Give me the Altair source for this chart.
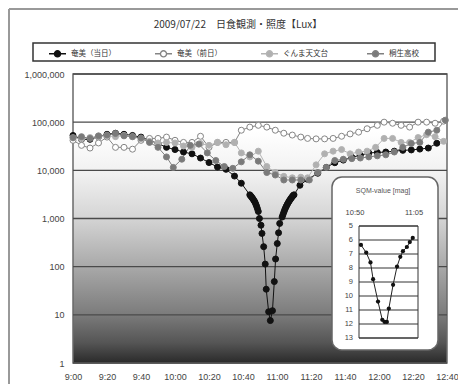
import altair as alt
import pandas as pd

title_text = "2009/07/22　日食観測・照度【Lux】"
series_names = ["奄美（当日）", "奄美（前日）", "ぐんま天文台", "桐生高校"]

# 奄美（当日）
today_time = ["9:00", "9:05", "9:10", "9:15", "9:20", "9:25", "9:30", "9:35", "9:40", "9:45",
              "9:50", "9:55", "10:00", "10:05", "10:10", "10:15", "10:20", "10:25", "10:30", "10:35",
              "10:39", "10:44:00", "10:44:30", "10:45:00", "10:45:30", "10:46:00", "10:46:30",
              "10:47:00", "10:47:30", "10:48:00", "10:48:30", "10:49:00", "10:49:40", "10:50:35",
              "10:51:10", "10:52:10", "10:53:05", "10:53:40", "10:55:05", "10:56:05", "10:57:20",
              "10:58:25", "10:59:10", "11:00:10", "11:00:55", "11:01:35", "11:03:00", "11:03:30",
              "11:04:00", "11:04:30", "11:05:00", "11:05:30", "11:06:00", "11:06:30", "11:07:00",
              "11:07:30", "11:08:00", "11:08:30", "11:09:00", "11:09:30", "11:10:00", "11:13:30",
              "11:18", "11:24", "11:29", "11:34", "11:39", "11:44", "11:49", "11:54", "11:59",
              "12:04", "12:09", "12:14", "12:19", "12:24", "12:29", "12:34"]
today_lux = [53000, 44000, 44000, 50000, 56000, 59000, 56000, 53000, 49000, 42000,
             36000, 30000, 27000, 24000, 22000, 18000, 14500, 11700, 10500, 7600,
             5400, 3100, 2950, 2800, 2650, 2500, 2350,
             2200, 2000, 1800, 1600, 1400, 1000, 725,
             490, 260, 113, 34, 11.6, 7.6, 12.2,
             49, 144, 302, 505, 790, 1070, 1200,
             1350, 1500, 1650, 1800, 1950, 2100, 2250,
             2400, 2550, 2700, 2850, 3000, 3100, 4900,
             6500, 8700, 11500, 14400, 16300, 18700, 20500, 23000, 23500,
             24000, 25000, 26000, 26500, 27600, 29000, 36500]

# 奄美（前日）
prev_time = ["9:00", "9:05", "9:10", "9:15", "9:20", "9:25", "9:30", "9:35", "9:40", "9:45",
             "9:50", "9:55", "10:00", "10:05", "10:10", "10:15", "10:20", "10:25", "10:30", "10:35",
             "10:39", "10:44", "10:49", "10:54", "10:59", "11:04", "11:09", "11:14", "11:18", "11:23",
             "11:28", "11:33", "11:38", "11:43", "11:48", "11:53", "11:59", "12:03", "12:08", "12:13",
             "12:18", "12:23", "12:28", "12:33", "12:38"]
prev_lux = [42000, 33000, 29000, 37000, 49000, 30000, 30000, 27500, 42000, 46000,
            46000, 49000, 42000, 38000, 38000, 51000, 30000, 38000, 38000, 38000,
            68000, 79000, 86000, 79000, 68000, 59000, 54000, 49000, 46000, 45000,
            45000, 46000, 51000, 57000, 62000, 73000, 86000, 100000, 95000, 86000,
            79000, 100000, 100000, 95000, 105000]

# ぐんま天文台
gunma_time = ["9:00", "9:05", "9:10", "9:15", "9:20", "9:25", "9:30", "9:35", "9:40", "9:45",
              "9:50", "9:55", "10:00", "10:05", "10:10", "10:15", "10:20", "10:25", "10:30", "10:35",
              "10:39", "10:44", "10:49", "10:54", "10:59", "11:04", "11:09", "11:14", "11:18", "11:23",
              "11:28", "11:33", "11:38", "11:43", "11:48", "11:53", "11:58", "12:03", "12:08", "12:13",
              "12:18", "12:23", "12:28", "12:33", "12:38"]
gunma_lux = [47000, 45000, 48000, 50000, 52000, 50000, 53000, 50000, 45000, 40000,
             37000, 38000, 37000, 32000, 30000, 36000, 33000, 38000, 34000, 38000,
             23000, 19000, 25000, 12000, 9000, 7500, 7000, 7200, 7000, 13000,
             22000, 25000, 27000, 22000, 24000, 25000, 30000, 46000, 46000, 38000,
             38000, 48000, 55000, 50000, 40000]

# 桐生高校
kiryu_time = ["9:00", "9:05", "9:10", "9:15", "9:20", "9:25", "9:30", "9:35", "9:40", "9:45",
              "9:50", "9:55", "9:59", "10:04", "10:09", "10:14", "10:19", "10:24", "10:29", "10:34",
              "10:39", "10:44", "10:49", "10:54", "10:59", "11:04", "11:09", "11:14", "11:19", "11:24",
              "11:29", "11:34", "11:39", "11:44", "11:49", "11:54", "11:59", "12:04", "12:09", "12:14",
              "12:19", "12:24", "12:29", "12:34", "12:39"]
kiryu_lux = [48000, 50000, 46000, 52000, 54000, 58000, 52000, 50000, 47000, 38000,
             30000, 19000, 11500, 17000, 33000, 35000, 23000, 16000, 12000, 11000,
             15000, 21000, 15500, 9000, 8000, 6300, 6300, 6300, 6300, 9000,
             11500, 16000, 17000, 17500, 18000, 19000, 20000, 21000, 24000, 30000,
             36000, 38000, 62000, 68000, 110000]

# inset: SQM-value [mag]
sqm_title = "SQM-value [mag]"
sqm_time = ["10:50:30", "10:51:50", "10:52:55", "10:53:35", "10:54:50", "10:55:55", "10:56:30",
            "10:57:05", "10:57:35", "10:58:40", "10:59:40", "11:00:30", "11:01:10", "11:02:10",
            "11:02:55", "11:03:40"]
sqm_mag = [6.35, 6.9, 7.6, 8.8, 10.4, 11.7, 11.85, 11.85, 10.9, 9.2, 7.9, 7.2, 6.8, 6.5, 6.15, 5.85]
sqm_ticks = [5, 6, 7, 8, 9, 10, 11, 12, 13]
sqm_xlabels = ["10:50", "11:05"]

x_tick_labels = ["9:00", "9:20", "9:40", "10:00", "10:20", "10:40", "11:00", "11:20", "11:40",
                 "12:00", "12:20", "12:40"]
y_ticks = [1, 10, 100, 1000, 10000, 100000, 1000000]

line_colors = ["#111111", "#858585", "#b4b4b4", "#808080"]
fill_colors = ["#111111", "#ffffff", "#b0b0b0", "#7a7a7a"]


def iso(t):
    p = t.split(":")
    h, m = int(p[0]), int(p[1])
    s = int(p[2]) if len(p) > 2 else 0
    return f"2009-07-22T{h:02d}:{m:02d}:{s:02d}"


def dt(t):
    p = t.split(":")
    return alt.DateTime(year=2009, month=7, date=22, hours=int(p[0]), minutes=int(p[1]))


rows = []
for name, ts, vs in zip(series_names,
                        [today_time, prev_time, gunma_time, kiryu_time],
                        [today_lux, prev_lux, gunma_lux, kiryu_lux]):
    for t, v in zip(ts, vs):
        rows.append({"series": name, "time": iso(t), "lux": v})
df = pd.DataFrame(rows)

sqm_df = pd.DataFrame({"t": [iso(t) for t in sqm_time], "v": sqm_mag})

W, H = 374, 289
one = alt.Data(values=[{}])

xscale = alt.Scale(domain=[dt("9:00"), dt("12:40")], nice=False)
yscale = alt.Scale(type="log", domain=[1, 1000000], nice=False)
stroke_scale = alt.Scale(domain=series_names, range=line_colors)
fill_scale = alt.Scale(domain=series_names, range=fill_colors)

leg_symbol = "M-1,0L-0.36,0M0.36,0L1,0M0.36,0A0.36,0.36,0,1,1,-0.36,0A0.36,0.36,0,1,1,0.36,0Z"
leg = alt.Legend(orient="none", legendX=-25, legendY=-30, direction="horizontal", title=None,
                 symbolType=leg_symbol, symbolSize=289, symbolStrokeWidth=1.4,
                 labelFontSize=7.5, labelFont="Noto Sans CJK JP", labelColor="#333",
                 columnPadding=36, labelOffset=4, padding=0, symbolOpacity=1)

x_axis = alt.Axis(values=[dt(t) for t in x_tick_labels], format="%-H:%M", labelFlush=False,
                  labelOverlap=False, labelPadding=9, title=None)
y_axis = alt.Axis(values=y_ticks, format=",d", labelPadding=9, labelOverlap=False, title=None)

gradient = alt.Gradient(
    gradient="linear", x1=0, y1=0, x2=0, y2=1,
    stops=[alt.GradientStop(offset=0, color="#ffffff"),
           alt.GradientStop(offset=0.2, color="#ffffff"),
           alt.GradientStop(offset=0.35, color="#f0f0f0"),
           alt.GradientStop(offset=0.5, color="#d4d4d4"),
           alt.GradientStop(offset=0.67, color="#a8a8a8"),
           alt.GradientStop(offset=0.83, color="#7c7c7c"),
           alt.GradientStop(offset=0.93, color="#555555"),
           alt.GradientStop(offset=1, color="#2a2a2a")])

bg = alt.Chart(one).mark_rect(fill=gradient, stroke="#6a6a6a", strokeWidth=1.5).encode(
    x=alt.value(0), x2=alt.value(W), y=alt.value(0), y2=alt.value(H))

grid = alt.Chart(pd.DataFrame({"g": y_ticks})).mark_rule(color="#4a4a4a", strokeWidth=1.3).encode(
    y=alt.Y("g:Q", scale=yscale, axis=y_axis))

lines = alt.Chart(df).mark_line(strokeWidth=1).encode(
    x=alt.X("time:T", scale=xscale, axis=x_axis),
    y=alt.Y("lux:Q", scale=yscale, axis=y_axis),
    stroke=alt.Stroke("series:N", scale=stroke_scale, legend=leg),
)

points = alt.Chart(df).mark_circle(size=36, opacity=1, strokeWidth=1).encode(
    x=alt.X("time:T", scale=xscale, axis=x_axis),
    y=alt.Y("lux:Q", scale=yscale, axis=y_axis),
    fill=alt.Fill("series:N", scale=fill_scale, legend=leg),
    stroke=alt.Stroke("series:N", scale=stroke_scale, legend=leg),
)

title = alt.Chart(one).mark_text(text=title_text, fontSize=10, font="Noto Sans CJK JP",
                                 color="#333").encode(x=alt.value(165), y=alt.value(-49))

legend_box = alt.Chart(one).mark_rect(filled=False, color="#333", strokeWidth=1.5).encode(
    x=alt.value(-40), x2=alt.value(362), y=alt.value(-31), y2=alt.value(-13))

frame_top = alt.Chart(one).mark_rule(color="#999", strokeWidth=2).encode(
    x=alt.value(-64), x2=alt.value(400), y=alt.value(-65))
frame_left = alt.Chart(one).mark_rule(color="#999", strokeWidth=2).encode(
    x=alt.value(-64), y=alt.value(-65), y2=alt.value(330))

main = alt.layer(bg, grid, lines, points, title, legend_box, frame_top, frame_left)

# inset
ix = alt.Scale(domain=[dt("10:50"), dt("11:05")], range=[286, 345], nice=False)
iy = alt.Scale(domain=[5, 13], range=[152, 264], nice=False, zero=False)

inset_box = alt.Chart(one).mark_rect(fill="white", stroke="#666", strokeWidth=1.5,
                                     cornerRadius=10).encode(
    x=alt.value(259), x2=alt.value(365), y=alt.value(103), y2=alt.value(276))
inset_title = alt.Chart(one).mark_text(text=sqm_title, fontSize=7, color="#555",
                                       font="Liberation Sans").encode(
    x=alt.value(310), y=alt.value(117))
inset_xlab = alt.Chart(pd.DataFrame({"t": [iso(t) for t in sqm_xlabels], "label": sqm_xlabels})
                       ).mark_text(fontSize=7.5, dx=-4, color="#444", font="Liberation Sans").encode(
    x=alt.X("t:T", scale=ix, axis=None), y=alt.value(139), text="label:N")
inset_grid = alt.Chart(pd.DataFrame({"g": sqm_ticks})).mark_rule(color="#333", strokeWidth=1).encode(
    y=alt.Y("g:Q", scale=iy, axis=None), x=alt.value(286), x2=alt.value(345))
inset_frame = alt.Chart(one).mark_rect(filled=False, color="#333", strokeWidth=1).encode(
    x=alt.value(286), x2=alt.value(345), y=alt.value(152), y2=alt.value(264))
inset_ylab = alt.Chart(pd.DataFrame({"g": sqm_ticks})).mark_text(
    align="right", baseline="middle", fontSize=7.5, color="#444", font="Liberation Sans").encode(
    y=alt.Y("g:Q", scale=iy, axis=None), x=alt.value(280), text="g:Q")
inset_line = alt.Chart(sqm_df).mark_line(color="#222", strokeWidth=1).encode(
    x=alt.X("t:T", scale=ix, axis=None), y=alt.Y("v:Q", scale=iy, axis=None))
inset_pts = alt.Chart(sqm_df).mark_circle(size=18, color="#111", opacity=1).encode(
    x=alt.X("t:T", scale=ix, axis=None), y=alt.Y("v:Q", scale=iy, axis=None))

inset = alt.layer(inset_box, inset_title, inset_xlab, inset_grid, inset_frame, inset_ylab,
                  inset_line, inset_pts)

chart = alt.layer(main, inset).resolve_scale(x="independent", y="independent").properties(
    width=W, height=H,
    padding={"left": 65, "top": 66, "right": 11, "bottom": 21},
    autosize=alt.AutoSizeParams(type="none"),
).configure_view(stroke=None).configure_axis(
    labelFont="Liberation Sans", labelFontSize=9, labelColor="#444",
    ticks=False, domain=False, grid=False,
)

chart.save("out.html", embed_options={"renderer": "svg", "actions": False})
